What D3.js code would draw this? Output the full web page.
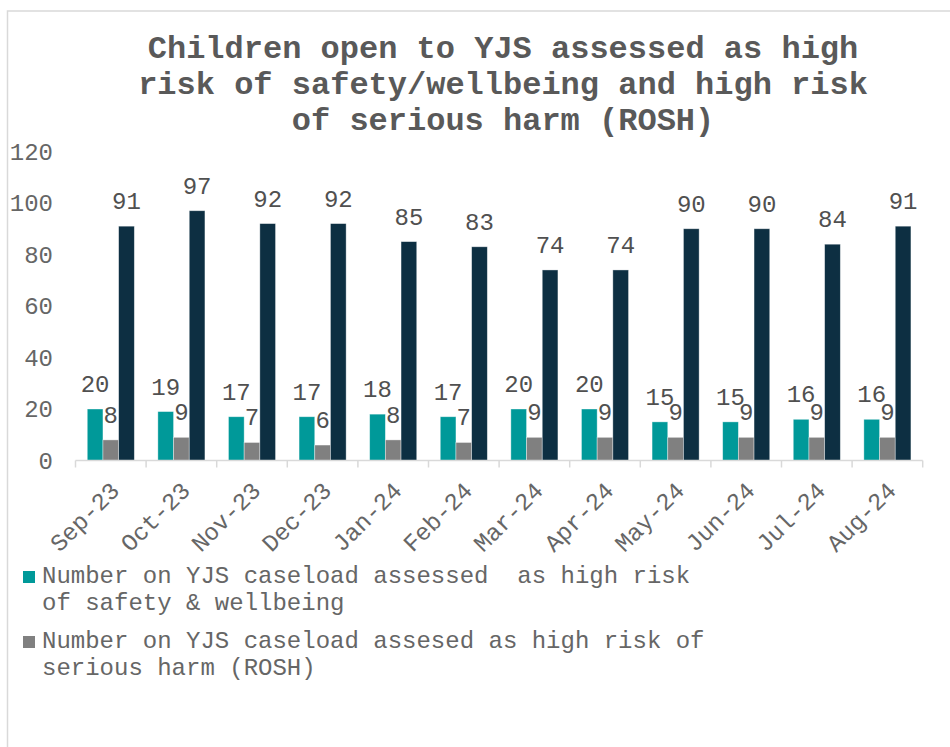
<!DOCTYPE html>
<html>
<head>
<meta charset="utf-8">
<script src="https://cdn.jsdelivr.net/npm/d3@7"></script>
<style>
  body { margin: 0; background: #fff; }
  text { font-family: "Liberation Mono", "Courier New", monospace; }
</style>
</head>
<body>
<script>
var months = ["Sep-23", "Oct-23", "Nov-23", "Dec-23", "Jan-24", "Feb-24",
              "Mar-24", "Apr-24", "May-24", "Jun-24", "Jul-24", "Aug-24"];
var safetyWellbeing = [20, 19, 17, 17, 18, 17, 20, 20, 15, 15, 16, 16];
var rosh = [8, 9, 7, 6, 8, 7, 9, 9, 9, 9, 9, 9];
var totalCaseload = [91, 97, 92, 92, 85, 83, 74, 74, 90, 90, 84, 91];
var yTicks = [0, 20, 40, 60, 80, 100, 120];

var titleLines = ["Children open to YJS assessed as high",
                  "risk of safety/wellbeing and high risk",
                  "of serious harm (ROSH)"];

var seriesNames = ["safety", "rosh", "total"];
var seriesColors = { safety: "#009999", rosh: "#808080", total: "#0d2f42" };
var legendItems = [
  { key: "safety", lines: ["Number on YJS caseload assessed  as high risk", "of safety & wellbeing"] },
  { key: "rosh", lines: ["Number on YJS caseload assesed as high risk of", "serious harm (ROSH)"] }
];

var rows = months.map(function (m, i) {
  return { month: m, safety: safetyWellbeing[i], rosh: rosh[i], total: totalCaseload[i] };
});

var svg = d3.select("body").append("svg")
            .attr("width", 950)
            .attr("height", 747);

// chart border (only top and left edge are visible in the crop)
svg.append("path")
   .attr("d", "M7.5,747 V11 H950")
   .attr("fill", "none")
   .attr("stroke", "#d9d9d9")
   .attr("stroke-width", 1.5);

// title
svg.append("g").selectAll("text")
   .data(titleLines)
   .enter().append("text")
   .attr("x", 503)
   .attr("y", function (d, i) { return 58 + i * 36; })
   .attr("text-anchor", "middle")
   .attr("font-size", 32)
   .attr("font-weight", "bold")
   .attr("fill", "#595959")
   .text(function (d) { return d; });

var x0 = d3.scaleBand()
           .domain(months)
           .range([75.5, 922.7])
           .paddingInner(1 / 3)
           .paddingOuter(1 / 6);

var x1 = d3.scaleBand()
           .domain(seriesNames)
           .range([0, x0.bandwidth()]);

var y = d3.scaleLinear()
          .domain([0, 120])
          .range([460.5, 151.5]);

// y tick labels, no axis line
svg.append("g").selectAll("text")
   .data(yTicks)
   .enter().append("text")
   .attr("x", 53)
   .attr("y", function (d) { return y(d); })
   .attr("dy", "0.35em")
   .attr("text-anchor", "end")
   .attr("font-size", 24)
   .attr("fill", "#666666")
   .text(function (d) { return d; });

// bars
var groups = svg.append("g").selectAll("g")
                .data(rows)
                .enter().append("g")
                .attr("transform", function (d) { return "translate(" + x0(d.month) + ",0)"; });

groups.selectAll("rect")
      .data(function (d) { return seriesNames.map(function (k) { return { key: k, value: d[k] }; }); })
      .enter().append("rect")
      .attr("x", function (d) { return x1(d.key); })
      .attr("y", function (d) { return y(d.value); })
      .attr("width", x1.bandwidth())
      .attr("height", function (d) { return y(0) - y(d.value); })
      .attr("fill", function (d) { return seriesColors[d.key]; })
      .attr("stroke", "#ffffff")
      .attr("stroke-opacity", 0.5)
      .attr("stroke-width", 0.75);

groups.selectAll("text")
      .data(function (d) { return seriesNames.map(function (k) { return { key: k, value: d[k] }; }); })
      .enter().append("text")
      .attr("x", function (d) { return x1(d.key) + x1.bandwidth() / 2; })
      .attr("y", function (d) { return y(d.value) - 17; })
      .attr("text-anchor", "middle")
      .attr("font-size", 24)
      .attr("fill", "#505050")
      .text(function (d) { return d.value; });

// x axis line and ticks at category boundaries
var step = x0.step();
var edges = months.map(function (m) { return x0(m) - (step - x0.bandwidth()) / 2; });
edges.push(edges[edges.length - 1] + step);

svg.append("line")
   .attr("x1", edges[0])
   .attr("x2", edges[edges.length - 1])
   .attr("y1", y(0))
   .attr("y2", y(0))
   .attr("stroke", "#d9d9d9")
   .attr("stroke-width", 1.5);

svg.append("g").selectAll("line")
   .data(edges)
   .enter().append("line")
   .attr("x1", function (d) { return d; })
   .attr("x2", function (d) { return d; })
   .attr("y1", y(0))
   .attr("y2", y(0) + 7)
   .attr("stroke", "#d9d9d9")
   .attr("stroke-width", 1.5);

svg.append("g").selectAll("text")
   .data(months)
   .enter().append("text")
   .attr("transform", function (d) {
     return "translate(" + (x0(d) + x0.bandwidth() / 2 + 10) + ",492) rotate(-45)";
   })
   .attr("text-anchor", "end")
   .attr("font-size", 24)
   .attr("fill", "#666666")
   .text(function (d) { return d; });

// legend
var legend = svg.append("g").selectAll("g")
                .data(legendItems)
                .enter().append("g")
                .attr("transform", function (d, i) { return "translate(0," + i * 65 + ")"; });

legend.append("rect")
      .attr("x", 23)
      .attr("y", 571)
      .attr("width", 12)
      .attr("height", 12)
      .attr("fill", function (d) { return seriesColors[d.key]; });

legend.append("text")
      .attr("font-size", 24)
      .attr("fill", "#666666")
      .attr("xml:space", "preserve")
      .selectAll("tspan")
      .data(function (d) { return d.lines; })
      .enter().append("tspan")
      .attr("x", 42)
      .attr("y", function (d, i) { return 583 + i * 26.5; })
      .text(function (d) { return d; });
</script>
</body>
</html>
